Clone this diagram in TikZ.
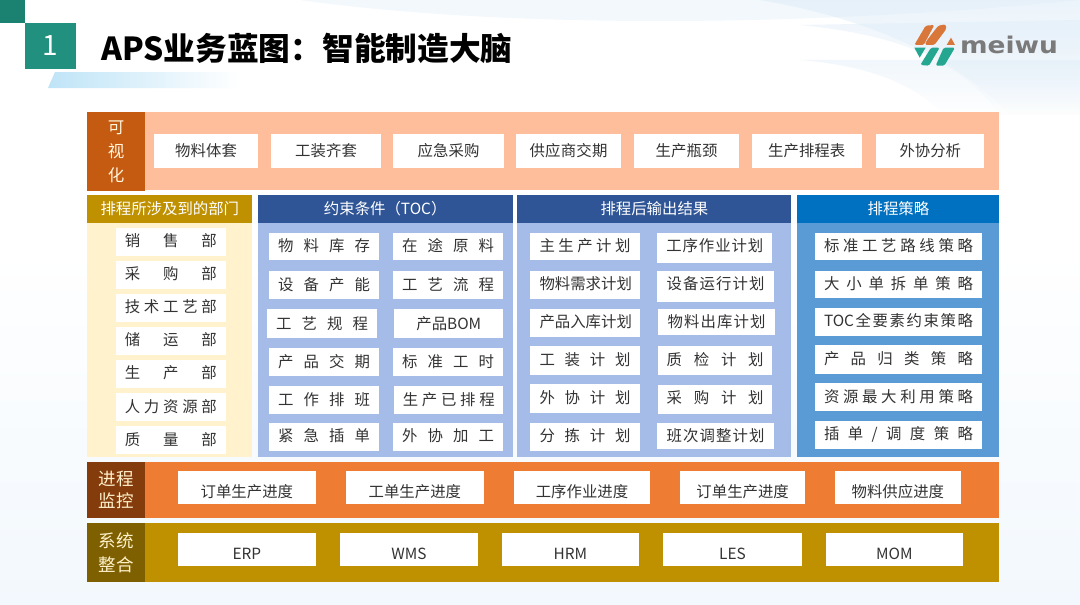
\documentclass[tikz,border=0pt]{standalone}
\usepackage{fontspec}
\usepackage{graphicx}
\usetikzlibrary{fadings}
\setmainfont{Noto Sans CJK SC}
\newfontfamily\logofont{DejaVu Sans}
\makeatletter
\def\spx#1{#1\@ifnextchar\relax{\@gobble}{\hfill\spx}}
\makeatother
\newcommand\SP[2]{\makebox[#1pt][s]{\spx #2\relax}}
\definecolor{txt}{HTML}{333333}
\definecolor{peach}{HTML}{FFBE9B}
\definecolor{rust}{HTML}{C55A11}
\definecolor{orng}{HTML}{EE7C33}
\definecolor{brownd}{HTML}{843C0C}
\definecolor{gold}{HTML}{BF9000}
\definecolor{olive}{HTML}{7F6000}
\definecolor{cream}{HTML}{FFF2CC}
\definecolor{navy}{HTML}{2F5597}
\definecolor{lblue}{HTML}{A5BCE9}
\definecolor{sblue}{HTML}{0070C0}
\definecolor{mblue}{HTML}{5B9BD5}
\definecolor{teal1}{HTML}{21907F}
\definecolor{teal2}{HTML}{1B8272}
\definecolor{logoO}{HTML}{D9773A}
\definecolor{logoT}{HTML}{25A690}
\definecolor{palebg}{HTML}{F2F8FD}
\definecolor{wave}{HTML}{DCEBF8}
\definecolor{stripe}{HTML}{BFE4F7}
\tikzset{
  itembox/.style={fill=white,inner sep=0pt,text height=0pt,text depth=0pt,text=txt,font=\fontsize{15.4}{18}\selectfont},
  bandlabel/.style={inner sep=0pt,align=center,text=#1},
  headbox/.style={inner sep=0pt,text=white,text height=0pt,text depth=0pt,font=\fontsize{15.4}{18}\selectfont},
  wavefill/.style={fill=wave,opacity=#1,path fading=south},
}
% \bx{name}{x0}{y0}{x1}{y1}{dy}{text}
\newcommand\bx[7]{\node[itembox,minimum width={(#4)-(#2)},minimum height={(#5)-(#3)}] (#1) at ({(#2+#4)/2},{(#3+#5)/2}) {\raisebox{\dimexpr-5.7pt-#6pt\relax}{#7}};}
% \rg{name}{x0}{y0}{x1}{y1}{fill}
\newcommand\rg[6]{\node[inner sep=0pt,fill=#6,minimum width={(#4)-(#2)},minimum height={(#5)-(#3)}] (#1) at ({(#2+#4)/2},{(#3+#5)/2}) {};}
\newcommand\hd[7]{\node[headbox,fill=#6,minimum width={(#4)-(#2)},minimum height={(#5)-(#3)}] (#1) at ({(#2+#4)/2},{(#3+#5)/2}) {\raisebox{-5.7pt}{#7}};}
\begin{document}
\begin{tikzpicture}[x=1pt,y=-1pt]
\useasboundingbox (0,0) rectangle (1080,605);
% background
\fill[white] (0,0) rectangle (1080,605);
\shade[top color=white,bottom color=palebg] (0,250) rectangle (1080,605);
\fill[wave,opacity=.35] (300,0) .. controls (500,28) and (800,28) .. (1080,0) -- cycle;
\fill[wavefill=.55] (760,0) .. controls (850,15) and (950,50) .. (1010,115) -- (1080,115) -- (1080,0) -- cycle;
\fill[wavefill=.45] (800,25) .. controls (900,35) and (960,60) .. (1000,115) -- (1080,115) -- (1080,20) -- cycle;
\fill[wavefill=.4] (800,60) .. controls (860,65) and (910,80) .. (945,115) -- (1080,115) -- (1080,60) -- cycle;
% title
\fill[teal2] (0,0) rectangle (25,23);
\node[inner sep=0pt,fill=teal1,minimum width=51,minimum height=46,text=white,font=\fontsize{28}{32}\selectfont] (num) at (50.5,46) {1};
\shade[left color=stripe,right color=white] (48,88) -- (55,72) -- (240,72) -- (240,88) -- cycle;
\node[inner sep=0pt,anchor=west,font=\fontsize{31.7}{36}\selectfont\bfseries,text=black] (title) at (101,48) {APS业务蓝图：智能制造大脑};
% logo
\begin{scope}[shift={(905,15)},x=.3333pt,y=-.3333pt]
\fill[logoO,rounded corners=1.5pt] (28,90) -- (62,32) -- (88,30) -- (56,90) -- cycle;
\fill[logoO,rounded corners=1.5pt] (60,90) -- (64,78) -- (100,32) -- (122,28) -- (124,42) -- (88,90) -- cycle;
\fill[logoO] (125,90) -- (138,68) -- (150,90) -- cycle;
\fill[logoT] (28,98) -- (62,98) -- (44,128) -- cycle;
\fill[logoT,rounded corners=1.5pt] (46,150) -- (78,98) -- (104,98) -- (72,152) -- cycle;
\fill[logoT,rounded corners=1.5pt] (92,152) -- (116,98) -- (150,98) -- (118,152) -- cycle;
\end{scope}
\node[inner sep=0pt,anchor=center,text=black!52,font=\logofont\bfseries\fontsize{23}{26}\selectfont] (logotext) at (1009,44.5) {\scalebox{1.15}[1]{meiwu}};
% --- top band
\rg{band1}{87}{112}{999}{190}{peach}
\node[bandlabel=cream!70!white,fill=rust,minimum width=58,minimum height=79,font=\fontsize{16.5}{24}\selectfont] (lab1) at (116,151.5) {可\\视\\化};
\bx{v1}{154}{134}{258}{167.7}{0}{\SP{62}{物料体套}}
\bx{v2}{271}{134}{381}{167.7}{0}{\SP{62}{工装齐套}}
\bx{v3}{393}{134}{504}{167.7}{0}{\SP{62}{应急采购}}
\bx{v4}{516}{134}{621}{167.7}{0}{\SP{78}{供应商交期}}
\bx{v5}{634}{134}{739}{167.7}{0}{\SP{62}{生产瓶颈}}
\bx{v6}{751.7}{134}{861.7}{167.7}{0}{\SP{77}{生产排程表}}
\bx{v7}{875.7}{134}{984.3}{167.7}{0}{\SP{61}{外协分析}}
% --- departments
\rg{p1}{87}{223}{252}{457}{cream}
\hd{h1}{87}{195}{252}{223}{gold}{\SP{138}{排程所涉及到的部门}}
\bx{d1}{116}{227.7}{225.7}{256}{-1}{\SP{92}{销售部}}
\bx{d2}{116}{260.7}{225.7}{288.7}{-1}{\SP{92}{采购部}}
\bx{d3}{116}{294}{225.7}{322}{-1}{\SP{92}{技术工艺部}}
\bx{d4}{116}{326.7}{225.7}{354.7}{-1}{\SP{92}{储运部}}
\bx{d5}{116}{360}{225.7}{387.7}{-1}{\SP{92}{生产部}}
\bx{d6}{116}{392.7}{225.7}{420.7}{0}{\SP{92}{人力资源部}}
\bx{d7}{116}{426}{225.7}{454}{0}{\SP{92}{质量部}}
% --- constraints
\rg{p2}{257.7}{223}{512.7}{457}{lblue}
\hd{h2}{257.7}{195}{512.7}{223}{navy}{约束条件（TOC）}
\bx{c1}{269}{232.7}{379}{260.3}{-1}{\SP{92}{物料库存}}
\bx{c2}{269}{270.7}{379}{299}{0}{\SP{92}{设备产能}}
\bx{c3}{267}{309.3}{377}{337.7}{0}{\SP{92}{工艺规程}}
\bx{c4}{269}{348}{379}{375.7}{0}{\SP{92}{产品交期}}
\bx{c5}{269}{386}{379}{414.3}{0}{\SP{92}{工作排班}}
\bx{c6}{269}{422.7}{379}{451}{-1}{\SP{92}{紧急插单}}
\bx{e1}{393.3}{232.7}{502.7}{260.3}{-1}{\SP{92}{在途原料}}
\bx{e2}{393.3}{270.7}{502.7}{299}{0}{\SP{92}{工艺流程}}
\bx{e3}{394.3}{309.3}{503.3}{337.7}{0}{产品BOM}
\bx{e4}{393.3}{348}{502.7}{375.7}{0}{\SP{92}{标准工时}}
\bx{e5}{394.3}{386}{503.3}{414.3}{0}{\SP{92}{生产已排程}}
\bx{e6}{393.3}{422.7}{502.7}{451}{-1}{\SP{92}{外协加工}}
% --- outputs
\rg{p3}{517.3}{223}{790.7}{457}{lblue}
\hd{h3}{517.3}{195}{790.7}{223}{navy}{\SP{107}{排程后输出结果}}
\bx{o1}{530}{232.7}{640}{260.3}{-1}{\SP{91}{主生产计划}}
\bx{o2}{530}{270.7}{640}{299}{-1}{\SP{91}{物料需求计划}}
\bx{o3}{530}{308.7}{640}{337}{-1}{\SP{91}{产品入库计划}}
\bx{o4}{530}{346.3}{640}{374.7}{-1}{\SP{91}{工装计划}}
\bx{o5}{530}{384.3}{640}{412.7}{-1}{\SP{91}{外协计划}}
\bx{o6}{530}{422.7}{640}{451}{-1}{\SP{91}{分拣计划}}
\bx{q1}{657.3}{232.7}{772.3}{262.7}{-2}{\SP{97}{工序作业计划}}
\bx{q2}{657.3}{270.7}{774}{302.3}{-3}{\SP{98}{设备运行计划}}
\bx{q3}{658}{308.7}{775}{335.3}{0}{\SP{98}{物料出库计划}}
\bx{q4}{658}{346.3}{772.3}{374.7}{-1}{\SP{97}{质检计划}}
\bx{q5}{658}{385}{772.3}{414}{-2}{\SP{97}{采购计划}}
\bx{q6}{657.3}{423.3}{774}{448.7}{0}{\SP{98}{班次调整计划}}
% --- strategy
\rg{p4}{797.3}{223}{999}{457}{mblue}
\hd{h4}{797.3}{195}{999}{223}{sblue}{\SP{61}{排程策略}}
\bx{s1}{815}{232.7}{982}{260.3}{-1}{\SP{149}{标准工艺路线策略}}
\bx{s2}{815}{270.7}{982}{298}{-1}{\SP{149}{大小单拆单策略}}
\bx{s3}{815}{307.7}{982}{335.7}{-1}{\SP{149}{{TOC}全要素约束策略}}
\bx{s4}{815}{345.3}{982}{373.7}{-1}{\SP{149}{产品归类策略}}
\bx{s5}{815}{383.3}{982}{411.3}{-1}{\SP{149}{资源最大利用策略}}
\bx{s6}{815}{421}{982}{449.3}{-1}{\SP{149}{插单/调度策略}}
% --- progress band
\rg{band2}{87}{462.3}{999}{518.3}{orng}
\node[bandlabel=cream,fill=brownd,minimum width=58,minimum height=56,font=\fontsize{17.5}{22}\selectfont] (lab2) at (116,490.3) {进程\\监控};
\bx{g1}{177.7}{471}{316}{504.3}{4}{订单生产进度}
\bx{g2}{346}{471}{483.7}{504.3}{4}{工单生产进度}
\bx{g3}{513.7}{471}{650.3}{504.3}{4}{工序作业进度}
\bx{g4}{680.3}{471}{805}{504.3}{4}{订单生产进度}
\bx{g5}{835}{471}{960.7}{504.3}{4}{物料供应进度}
% --- systems band
\rg{band3}{87}{522.7}{999}{582.3}{gold}
\node[bandlabel=cream,fill=olive,minimum width=58,minimum height=59.6,font=\fontsize{17.5}{24}\selectfont] (lab3) at (116,552.5) {系统\\整合};
\bx{m1}{177.7}{533}{316}{566}{4}{ERP}
\bx{m2}{340}{533}{477.7}{566}{4}{WMS}
\bx{m3}{501.7}{533}{639}{566}{4}{HRM}
\bx{m4}{663.3}{533}{801.7}{566}{4}{LES}
\bx{m5}{825.7}{533}{963}{566}{4}{MOM}
\end{tikzpicture}
\end{document}
